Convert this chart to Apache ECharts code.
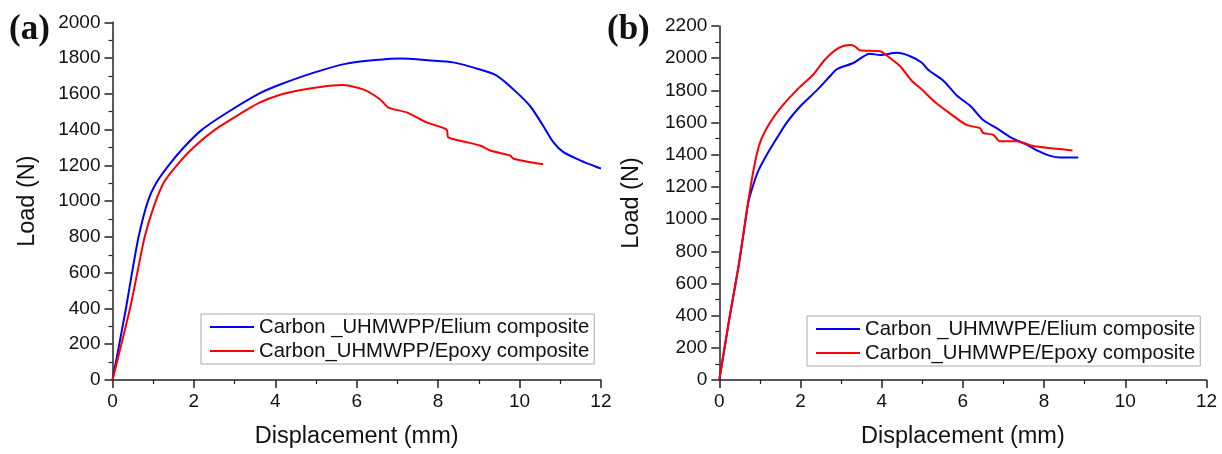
<!DOCTYPE html>
<html>
<head>
<meta charset="utf-8">
<script src="https://cdn.jsdelivr.net/npm/echarts@6/dist/echarts.min.js"></script>
<style>
html,body{margin:0;padding:0;background:#fff;}
#chart{width:1222px;height:454px;}
</style>
</head>
<body>
<div id="chart"></div>
<script>
// Panel (a)
const aEliumName = 'Carbon _UHMWPP/Elium composite';
const aEpoxyName = 'Carbon_UHMWPP/Epoxy composite';
const aEliumX = [0,0.33,0.48,0.64,0.87,1.07,1.38,1.75,2.2,2.85,3.59,4.12,4.93,5.75,6.57,7.06,7.80,8.37,9.03,9.44,9.85,10.26,10.58,10.83,11.08,11.49,11.94,12.0];
const aEliumY = [0,400,600,800,1000,1100,1200,1300,1400,1500,1600,1652,1717,1769,1791,1797,1787,1776,1736,1702,1625,1532,1422,1330,1274,1228,1187,1183];
const aEpoxyX = [0,0.43,0.61,0.79,1.0,1.25,1.58,1.99,2.52,3.22,3.6,4.12,4.6,5.1,5.63,6.16,6.57,6.78,7.23,7.72,8.21,8.25,8.70,9.03,9.28,9.77,9.85,10.50,10.58];
const aEpoxyY = [0,400,600,800,960,1100,1200,1300,1400,1500,1550,1595,1620,1638,1649,1625,1570,1523,1496,1440,1400,1357,1330,1311,1283,1255,1237,1209,1208];

// Panel (b)
const bEliumName = 'Carbon _UHMWPE/Elium composite';
const bEpoxyName = 'Carbon_UHMWPE/Epoxy composite';
const bEliumX = [0,0.26,0.47,0.59,0.71,0.82,0.96,1.17,1.41,1.66,1.99,2.40,2.77,2.89,3.30,3.71,3.96,4.37,4.70,4.99,5.15,5.52,5.85,6.18,6.50,6.83,7.20,7.57,7.82,8.15,8.4,8.84];
const bEliumY = [0,400,700,900,1100,1200,1300,1400,1500,1600,1700,1800,1900,1931,1970,2027,2020,2033,2012,1972,1927,1860,1768,1704,1616,1565,1504,1463,1427,1393,1382,1382];
const bEpoxyX = [0,0.26,0.47,0.59,0.77,0.92,1.04,1.25,1.54,1.90,2.32,2.60,2.93,3.22,3.34,3.46,3.96,4.20,4.45,4.74,4.99,5.31,5.68,6.09,6.42,6.50,6.75,6.91,7.33,7.73,8.23,8.70];
const bEpoxyY = [0,400,700,900,1200,1400,1500,1600,1700,1800,1900,1990,2062,2082,2074,2049,2043,2002,1951,1860,1805,1728,1657,1585,1565,1535,1524,1484,1484,1454,1439,1427];

const xTitle = 'Displacement (mm)';
const yTitle = 'Load (N)';
const panelLabels = ['(a)', '(b)'];

const zip = (xs, ys) => xs.map((x, i) => [x, ys[i]]);
const FONT = '"Liberation Sans", Arial, sans-serif';
const axisColor = '#222';

function xAxis(gi) {
  return {
    type: 'value', gridIndex: gi, min: 0, max: 12, interval: 2,
    name: xTitle, nameLocation: 'middle', nameGap: 45,
    nameTextStyle: {fontFamily: FONT, fontSize: 23.5, color: '#111'},
    axisLine: {show: true, lineStyle: {color: axisColor, width: 1.5}},
    axisTick: {show: true, inside: false, length: 8, lineStyle: {color: axisColor, width: 1.5}},
    minorTick: {show: true, splitNumber: 2, length: 4, lineStyle: {color: axisColor, width: 1.2}},
    axisLabel: {fontFamily: FONT, fontSize: 19, color: '#111', margin: 12, formatter: v => String(v)},
    splitLine: {show: false}
  };
}
function yAxis(gi, max, gap) {
  return {
    type: 'value', gridIndex: gi, min: 0, max: max, interval: 200,
    name: yTitle, nameLocation: 'middle', nameGap: gap, nameRotate: 90,
    nameTextStyle: {fontFamily: FONT, fontSize: 23.5, color: '#111'},
    axisLine: {show: true, lineStyle: {color: axisColor, width: 1.5}},
    axisTick: {show: true, inside: false, length: 8, lineStyle: {color: axisColor, width: 1.5}},
    minorTick: {show: true, splitNumber: 2, length: 4, lineStyle: {color: axisColor, width: 1.2}},
    axisLabel: {fontFamily: FONT, fontSize: 19, color: '#111', margin: 12, formatter: v => String(v)},
    splitLine: {show: false}
  };
}
function line(name, data, color, xi, yi) {
  return {
    type: 'line', name: name, data: data, xAxisIndex: xi, yAxisIndex: yi,
    symbol: 'none', smooth: 0.25,
    lineStyle: {color: color, width: 2}, itemStyle: {color: color},
    animation: false, z: color === '#ff0000' ? 3 : 2
  };
}
function legend(names, left, top) {
  return {
    data: names, orient: 'vertical', left: left, top: top,
    icon: 'rect', itemWidth: 44, itemHeight: 2, itemGap: 4,
    backgroundColor: '#fff', borderColor: '#aaa', borderWidth: 1,
    padding: [3, 5, 3, 9],
    textStyle: {fontFamily: FONT, fontSize: 20.3, color: '#111', lineHeight: 20}
  };
}

const chart = echarts.init(document.getElementById('chart'), null, {renderer: 'canvas'});
chart.setOption({
  backgroundColor: '#fff',
  animation: false,
  grid: [
    {left: 112.5, top: 22.3, width: 488.4, height: 361},
    {left: 719.3, top: 26, width: 487.2, height: 360.7}
  ],
  xAxis: [xAxis(0), xAxis(1)],
  yAxis: [yAxis(0, 2000, 73), yAxis(1, 2200, 76)],
  legend: [legend([aEliumName, aEpoxyName], 201, 314), legend([bEliumName, bEpoxyName], 807, 316)],
  graphic: [
    {type: 'text', left: 9, top: 12, style: {text: panelLabels[0], font: 'bold 35px "Liberation Serif", "Times New Roman", serif', fill: '#111'}},
    {type: 'text', left: 607, top: 12, style: {text: panelLabels[1], font: 'bold 35px "Liberation Serif", "Times New Roman", serif', fill: '#111'}}
  ],
  series: [
    line(aEliumName, zip(aEliumX, aEliumY), '#0000ff', 0, 0),
    line(aEpoxyName, zip(aEpoxyX, aEpoxyY), '#ff0000', 0, 0),
    line(bEliumName, zip(bEliumX, bEliumY), '#0000ff', 1, 1),
    line(bEpoxyName, zip(bEpoxyX, bEpoxyY), '#ff0000', 1, 1)
  ]
});
</script>
</body>
</html>
